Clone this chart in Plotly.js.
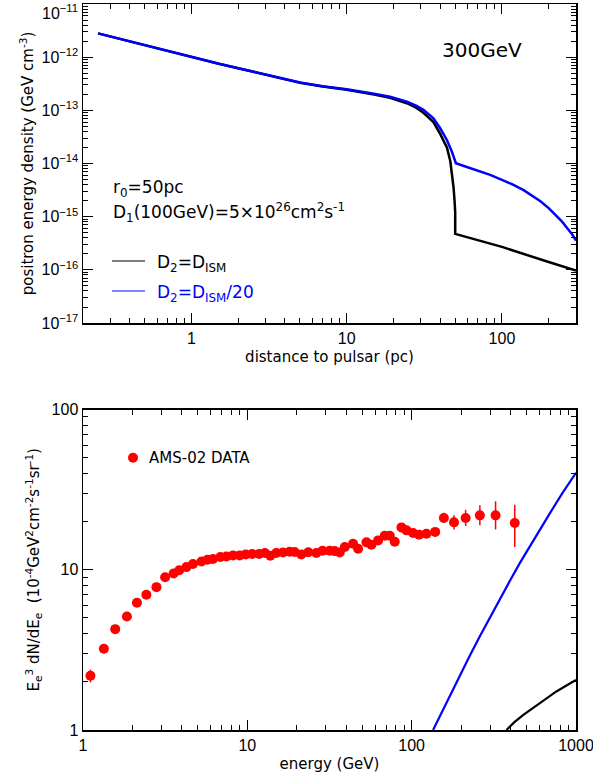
<!DOCTYPE html>
<html>
<head>
<meta charset="utf-8">
<script src="https://cdn.plot.ly/plotly-3.0.1.min.js"></script>
<style>
  html, body { margin: 0; padding: 0; background: #fff; }
  #chart { width: 593px; height: 782px; }
</style>
</head>
<body>
<div id="chart"></div>
<script>
// ---------- Top panel: positron energy density vs distance (300 GeV) ----------
const distIsm = [0.25, 0.35, 0.5, 0.7, 1, 1.5, 2, 3, 5, 7, 10, 15, 19, 24.4, 28, 31.2, 36.2, 40, 44.2, 46.5, 47.6, 48.8, 49.5, 50, 50, 100, 200, 300];
const densIsm = [2.8e-12, 2.18e-12, 1.68e-12, 1.31e-12, 9.9e-13, 7.5e-13, 6.2e-13, 4.65e-13, 3.3e-13, 2.8e-13, 2.44e-13, 1.98e-13, 1.72e-13, 1.36e-13, 1.12e-13, 9.0e-14, 6.0e-14, 3.6e-14, 2.0e-14, 1.1e-14, 7e-15, 3.5e-15, 2e-15, 1.2e-15, 4.75e-16, 2.7e-16, 1.4e-16, 9.7e-17];

const distSlow = [0.25, 0.35, 0.5, 0.7, 1, 1.5, 2, 3, 5, 7, 10, 15, 19, 24.4, 28, 31.2, 36.2, 40, 44.2, 47.6, 50.5, 59.4, 69, 84, 100, 116, 138, 156, 177, 200, 226, 244, 262, 283, 300];
const densSlow = [2.8e-12, 2.18e-12, 1.68e-12, 1.31e-12, 9.9e-13, 7.5e-13, 6.2e-13, 4.7e-13, 3.35e-13, 2.85e-13, 2.5e-13, 2.05e-13, 1.8e-13, 1.46e-13, 1.22e-13, 1.02e-13, 7.1e-14, 4.6e-14, 2.77e-14, 1.66e-14, 1.01e-14, 8.6e-15, 7.48e-15, 6.1e-15, 4.92e-15, 4.08e-15, 3.15e-15, 2.52e-15, 1.95e-15, 1.45e-15, 1.02e-15, 8.05e-16, 6.2e-16, 4.67e-16, 3.56e-16];

// ---------- Bottom panel: AMS-02 positron spectrum ----------
const amsEnergy = [1.11, 1.34, 1.57, 1.85, 2.13, 2.43, 2.80, 3.16, 3.56, 3.85, 4.26, 4.67, 5.26, 5.72, 6.18, 6.86, 7.46, 8.19, 8.99, 9.78, 10.7, 11.8, 12.8, 13.8, 15.0, 16.5, 18.1, 19.4, 21.3, 23.5, 26.3, 28.7, 31.7, 34.0, 36.5, 39.2, 44.0, 47.2, 53.1, 56.9, 62.5, 68.6, 73.6, 78.9, 86.7, 93.0, 102, 111, 123, 139, 157, 181, 213, 260, 324, 424];
const amsFlux = [2.18, 3.21, 4.26, 5.11, 6.22, 6.98, 7.79, 8.98, 9.48, 9.93, 10.39, 10.85, 11.27, 11.55, 11.66, 12.0, 12.11, 12.29, 12.29, 12.47, 12.54, 12.54, 12.72, 12.23, 12.72, 12.83, 12.96, 12.9, 12.47, 12.87, 12.72, 13.14, 13.14, 13.07, 12.83, 13.86, 14.54, 13.53, 14.82, 14.33, 15.25, 16.31, 16.31, 14.96, 18.38, 17.61, 16.95, 16.54, 16.79, 17.23, 21.05, 19.76, 21.05, 21.85, 21.85, 19.58];
const amsErrUp = [0.2,0.2,0.2,0.2,0.2,0.2,0.2,0.2,0.2,0.2,0.2,0.2,0.2,0.2,0.2,0.2,0.2,0.2,0.2,0.2,0.2,0.2,0.2,0.2,0.2,0.2,0.2,0.2,0.2,0.2,0.2,0.2,0.2,0.2,0.2,0.3,0.3,0.3,0.3,0.3,0.3,0.3,0.3,0.3,0.5,0.5,0.5,0.5,0.5,0.75,1.6,2.1,2.6,3.4,4.9,5.9];
const amsErrDn = [0.2,0.2,0.2,0.2,0.2,0.2,0.2,0.2,0.2,0.2,0.2,0.2,0.2,0.2,0.2,0.2,0.2,0.2,0.2,0.2,0.2,0.2,0.2,0.2,0.2,0.2,0.2,0.2,0.2,0.2,0.2,0.2,0.2,0.2,0.2,0.3,0.3,0.3,0.3,0.3,0.3,0.3,0.3,0.3,0.5,0.5,0.5,0.5,0.5,0.7,1.5,1.9,2.3,2.9,4.0,5.7];

const modelSlowE = [135, 150, 170.6, 196, 225.7, 260, 298.8, 345, 395.4, 455, 523.3, 600, 692.8, 830, 1000];
const modelSlowF = [1.0, 1.25, 1.64, 2.2, 2.91, 3.85, 5.03, 6.55, 8.5, 11.0, 14.0, 17.6, 22.5, 30.3, 40.3];
const modelIsmE = [377.6, 420, 476, 540, 600, 680, 760, 870, 1000];
const modelIsmF = [1.0, 1.116, 1.24, 1.36, 1.47, 1.6, 1.74, 1.89, 2.05];

// tick labels (the top-most label, 10^-11, is placed as a text note so it stays readable at the edge)
const topXTicks = [1, 10, 100];
const topXText = ['1', '10', '100'];
const topYTicks = [1e-17, 1e-16, 1e-15, 1e-14, 1e-13, 1e-12, 1e-11];
const topYText = ['10<sup>\u221217</sup>', '10<sup>\u221216</sup>', '10<sup>\u221215</sup>', '10<sup>\u221214</sup>', '10<sup>\u221213</sup>', '10<sup>\u221212</sup>', ''];
const topYEdgeLabel = '10<sup>\u221211</sup>';
const botXTicks = [1, 10, 100, 1000];
const botXText = ['1', '10', '100', '1000'];
const botYTicks = [1, 10, 100];
const botYText = ['1', '10', '100'];

function minorVals(decades) {
  const out = [];
  decades.forEach(function (p) { for (let d = 2; d <= 9; d++) out.push(d * Math.pow(10, p)); });
  return out;
}

const FONT = 'DejaVu Sans, sans-serif';
const TICKFONT = 'Liberation Sans, Arial, sans-serif';

const traces = [
  { x: distIsm, y: densIsm, type: 'scatter', mode: 'lines', xaxis: 'x', yaxis: 'y',
    line: { color: '#000000', width: 2.5 }, name: 'D2=DISM', showlegend: false },
  { x: distSlow, y: densSlow, type: 'scatter', mode: 'lines', xaxis: 'x', yaxis: 'y',
    line: { color: '#0000ff', width: 2.5 }, name: 'D2=DISM/20', showlegend: false },
  { x: amsEnergy, y: amsFlux, type: 'scatter', mode: 'markers', xaxis: 'x2', yaxis: 'y2',
    marker: { color: '#ff0000', size: 10, symbol: 'circle' },
    error_y: { type: 'data', symmetric: false, array: amsErrUp, arrayminus: amsErrDn, color: '#ff0000', thickness: 1.5, width: 0 },
    name: 'AMS-02 DATA', showlegend: false },
  { x: modelSlowE, y: modelSlowF, type: 'scatter', mode: 'lines', xaxis: 'x2', yaxis: 'y2',
    line: { color: '#0000ff', width: 2.2 }, showlegend: false },
  { x: modelIsmE, y: modelIsmF, type: 'scatter', mode: 'lines', xaxis: 'x2', yaxis: 'y2',
    line: { color: '#000000', width: 2.2 }, showlegend: false }
];

function axisBase() {
  return {
    type: 'log', showgrid: false, zeroline: false,
    showline: true, linecolor: '#000', linewidth: 1.5, mirror: 'ticks',
    ticks: 'inside', ticklen: 10, tickwidth: 1, tickcolor: '#000',
    tickmode: 'array', ticklabeloverflow: 'allow',
    tickfont: { family: TICKFONT, size: 16, color: '#000' }
  };
}

const W = 593, H = 782, ML = 83, MR = 17, MT = 4, MB = 52;
const PW = W - ML - MR, PH = H - MT - MB;
function px(xp) { return (xp - ML) / PW; }
function py(yp) { return 1 - (yp - MT) / PH; }

const layout = {
  width: W, height: H,
  margin: { l: ML, r: MR, t: MT, b: MB },
  paper_bgcolor: '#fff', plot_bgcolor: '#fff',
  showlegend: false,
  xaxis: Object.assign(axisBase(), {
    domain: [0, 1], anchor: 'y',
    range: [Math.log10(0.2), Math.log10(300)],
    tickvals: topXTicks, ticktext: topXText,
    minor: { tickvals: minorVals([-1, 0, 1, 2]), ticks: 'inside', ticklen: 5, tickwidth: 1, tickcolor: '#000', showgrid: false },
    title: { text: 'distance to pulsar (pc)', font: { family: FONT, size: 15, color: '#000' }, standoff: 6 }
  }),
  yaxis: Object.assign(axisBase(), {
    domain: [py(323), 1], anchor: 'x',
    range: [-17, -11],
    tickvals: topYTicks, ticktext: topYText,
    minor: { tickvals: minorVals([-17, -16, -15, -14, -13, -12]), ticks: 'inside', ticklen: 5, tickwidth: 1, tickcolor: '#000', showgrid: false },
    title: { text: 'positron energy density (GeV cm<sup>-3</sup>)', font: { family: FONT, size: 15, color: '#000' }, standoff: 4 }
  }),
  xaxis2: Object.assign(axisBase(), {
    domain: [0, 1], anchor: 'y2',
    range: [0, 3],
    tickvals: botXTicks, ticktext: botXText,
    minor: { tickvals: minorVals([0, 1, 2]), ticks: 'inside', ticklen: 5, tickwidth: 1, tickcolor: '#000', showgrid: false },
    title: { text: 'energy (GeV)', font: { family: FONT, size: 15, color: '#000' }, standoff: 6 }
  }),
  yaxis2: Object.assign(axisBase(), {
    domain: [0, py(409.5)], anchor: 'x2',
    range: [0, 2],
    tickvals: botYTicks, ticktext: botYText,
    minor: { tickvals: minorVals([0, 1]), ticks: 'inside', ticklen: 5, tickwidth: 1, tickcolor: '#000', showgrid: false },
    title: { text: 'E<sub>e</sub><sup>3</sup> dN/dE<sub>e</sub>  (10<sup>-4</sup>GeV<sup>2</sup>cm<sup>-2</sup>s<sup>-1</sup>sr<sup>-1</sup>)', font: { family: FONT, size: 15, color: '#000' }, standoff: 8 }
  }),
  shapes: [
    { type: 'line', xref: 'paper', yref: 'paper', x0: px(112), x1: px(145), y0: py(261), y1: py(261), line: { color: '#000', width: 1.2 } },
    { type: 'line', xref: 'paper', yref: 'paper', x0: px(112), x1: px(145), y0: py(291), y1: py(291), line: { color: '#0000ff', width: 1.2 } },
    { type: 'circle', xref: 'paper', yref: 'paper', x0: px(128), x1: px(138), y0: py(462.7), y1: py(452.7), fillcolor: '#ff0000', line: { color: '#ff0000', width: 0 } }
  ],
  annotations: [
    { text: topYEdgeLabel, xref: 'paper', yref: 'paper', x: px(80), y: py(0), xanchor: 'right', yanchor: 'top', showarrow: false, font: { family: TICKFONT, size: 16, color: '#000' } },
    { text: '300GeV', xref: 'paper', yref: 'paper', x: px(440), y: py(50), xanchor: 'left', yanchor: 'middle', showarrow: false, font: { family: FONT, size: 20, color: '#000' } },
    { text: 'r<sub>0</sub>=50pc', xref: 'paper', yref: 'paper', x: px(111), y: py(188), xanchor: 'left', yanchor: 'middle', showarrow: false, font: { family: FONT, size: 17, color: '#000' } },
    { text: 'D<sub>1</sub>(100GeV)=5\u00d710<sup>26</sup>cm<sup>2</sup>s<sup>-1</sup>', xref: 'paper', yref: 'paper', x: px(111), y: py(213), xanchor: 'left', yanchor: 'middle', showarrow: false, font: { family: FONT, size: 17, color: '#000' } },
    { text: 'D<sub>2</sub>=D<sub>ISM</sub>', xref: 'paper', yref: 'paper', x: px(155), y: py(263), xanchor: 'left', yanchor: 'middle', showarrow: false, font: { family: FONT, size: 17, color: '#000' } },
    { text: 'D<sub>2</sub>=D<sub>ISM</sub>/20', xref: 'paper', yref: 'paper', x: px(155), y: py(293), xanchor: 'left', yanchor: 'middle', showarrow: false, font: { family: FONT, size: 17, color: '#0000ff' } },
    { text: 'AMS-02 DATA', xref: 'paper', yref: 'paper', x: px(147), y: py(458), xanchor: 'left', yanchor: 'middle', showarrow: false, font: { family: FONT, size: 15, color: '#000' } }
  ]
};

Plotly.newPlot('chart', traces, layout, { staticPlot: true, displayModeBar: false });
</script>
</body>
</html>
